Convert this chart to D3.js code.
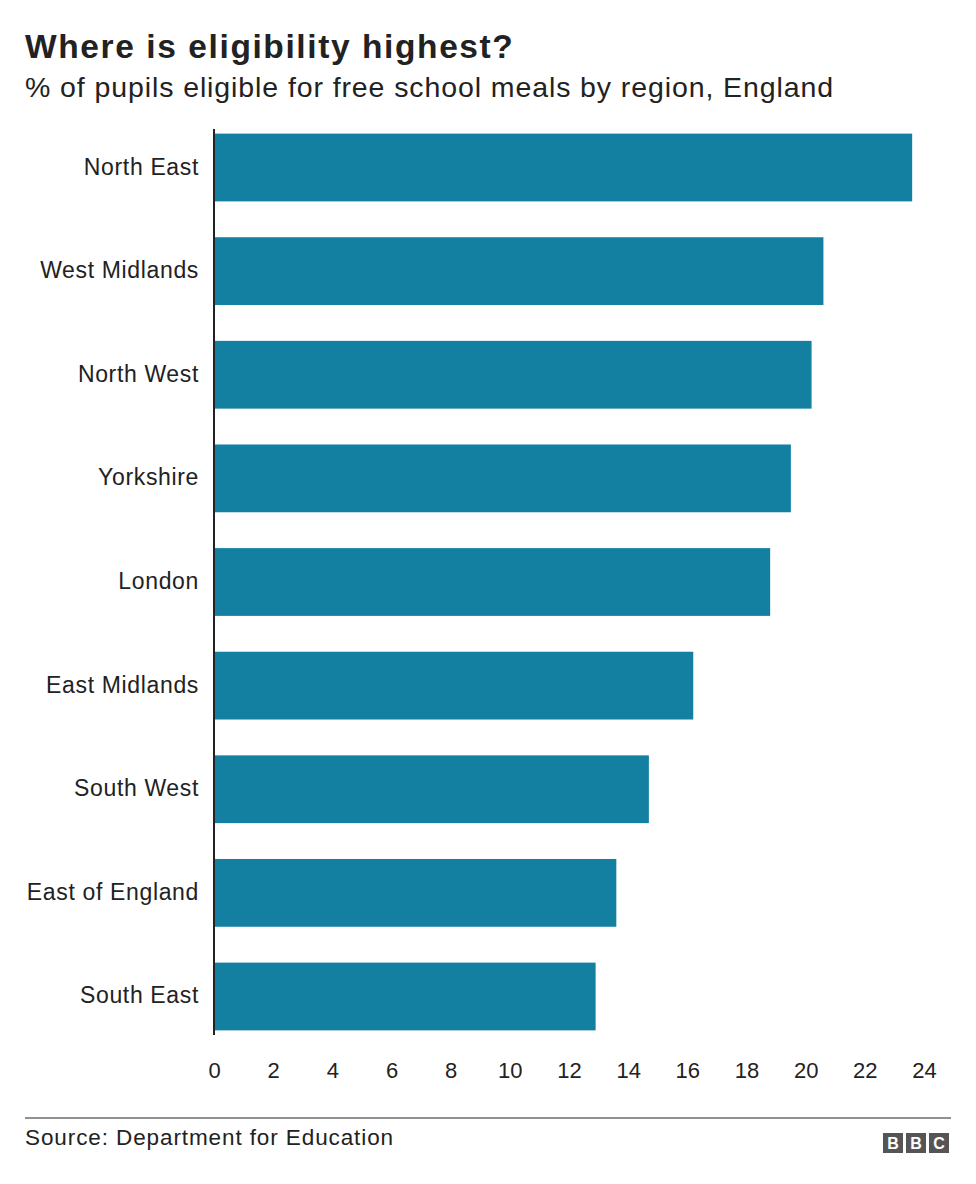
<!DOCTYPE html>
<html><head><meta charset="utf-8">
<script src="https://cdn.jsdelivr.net/npm/d3@7"></script>
<style>body{margin:0;background:#fff;font-family:"Liberation Sans",Arial,sans-serif}</style>
</head><body><svg id="c" width="976" height="1184"></svg>
<script>
const regions=["North East","West Midlands","North West","Yorkshire","London","East Midlands","South West","East of England","South East"];
const values=[23.6,20.6,20.2,19.5,18.8,16.2,14.7,13.6,12.9];
const ticks=[0,2,4,6,8,10,12,14,16,18,20,22,24];
const svg=d3.select("#c");
svg.append("text").attr("x",25).attr("y",58).attr("font-size",33.5).attr("letter-spacing",1.6).attr("font-weight","bold").attr("fill","#222").text("Where is eligibility highest?");
svg.append("text").attr("x",25).attr("y",97).attr("font-size",28.5).attr("letter-spacing",0.9).attr("fill","#222").text("% of pupils eligible for free school meals by region, England");
const x=d3.scaleLinear().domain([0,24]).range([214,924]);
const y=d3.scaleBand().domain(regions).range([116,1048]).paddingInner(0.346).paddingOuter(0.17);
svg.selectAll("rect").data(values).join("rect").attr("x",x(0)).attr("y",(d,i)=>y(regions[i])).attr("width",d=>x(d)-x(0)).attr("height",y.bandwidth()).attr("fill","#1380a1");
svg.selectAll(".lab").data(regions).join("text").attr("x",199).attr("y",d=>y(d)+y.bandwidth()/2+7).attr("text-anchor","end").attr("font-size",23).attr("letter-spacing",0.65).attr("fill","#222").text(d=>d);
svg.append("line").attr("x1",214).attr("x2",214).attr("y1",129).attr("y2",1035).attr("stroke","#222").attr("stroke-width",2);
const ax=svg.append("g").attr("transform","translate(0,1054)").call(d3.axisBottom(x).tickValues(ticks).tickSize(0).tickPadding(0));
ax.select(".domain").remove();
ax.selectAll("text").attr("font-size",22).attr("fill","#222").attr("font-family","Liberation Sans,Arial,sans-serif").attr("dy","1.1em");
svg.append("line").attr("x1",25).attr("x2",951).attr("y1",1118).attr("y2",1118).attr("stroke","#222").attr("stroke-width",1);
svg.append("text").attr("x",25).attr("y",1145).attr("font-size",22.5).attr("letter-spacing",0.9).attr("fill","#222").text("Source: Department for Education");
["B","B","C"].forEach((l,i)=>{const g=svg.append("g").attr("transform",`translate(${883+i*23},1133)`);
g.append("rect").attr("width",20).attr("height",20).attr("fill","#555");
g.append("text").attr("x",10).attr("y",16).attr("text-anchor","middle").attr("font-size",16).attr("font-weight","bold").attr("fill","#fff").text(l);});
</script></body></html>
